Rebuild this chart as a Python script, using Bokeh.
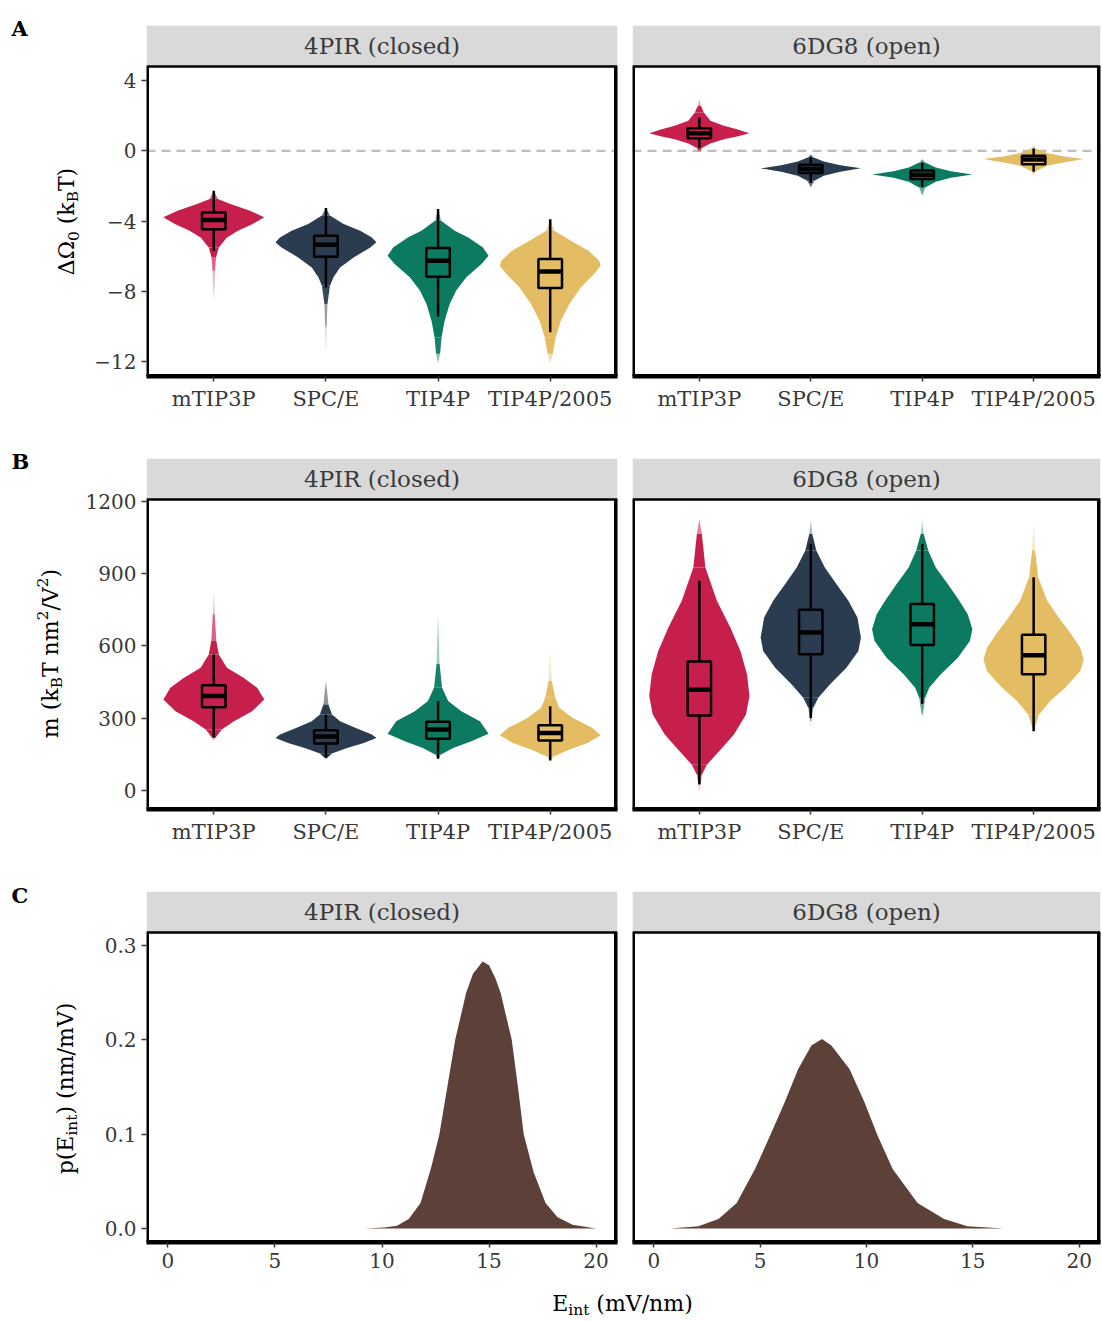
import math
import glob
from bokeh.plotting import figure
from bokeh.layouts import row, column
from bokeh.models import Range1d, FixedTicker, Span, PrintfTickFormatter
from bokeh.embed import file_html
from bokeh.resources import INLINE
from bokeh.core.properties import value

# ----------------------------------------------------------------- data
models = ["mTIP3P", "SPC/E", "TIP4P", "TIP4P/2005"]
model_colors = ["#c71f4b", "#2b3b50", "#0b7a61", "#e4bc63"]
facet_labels = ["4PIR (closed)", "6DG8 (open)"]

# Panel A  (Delta Omega_0, kBT) -- violin profiles: value, relative half-width
dO_closed_mTIP3P_y = [-2.28, -2.75, -3.03, -3.41, -3.79, -4.17, -4.55, -4.93, -5.5, -6.07, -6.83, -8.53]
dO_closed_mTIP3P_w = [0.0, 0.08, 0.33, 0.72, 1.0, 0.77, 0.48, 0.26, 0.1, 0.045, 0.025, 0.0]
dO_closed_SPCE_y = [-3.26, -3.69, -4.17, -4.55, -4.93, -5.21, -5.5, -6.07, -6.64, -7.2, -7.68, -8.72, -10.0, -11.56]
dO_closed_SPCE_w = [0.0, 0.08, 0.35, 0.68, 0.91, 1.0, 0.88, 0.55, 0.28, 0.15, 0.08, 0.03, 0.015, 0.0]
dO_closed_TIP4P_y = [-3.32, -3.98, -4.55, -4.93, -5.5, -5.97, -6.45, -7.2, -7.96, -8.72, -9.67, -10.62, -11.56, -12.1]
dO_closed_TIP4P_w = [0.0, 0.06, 0.33, 0.6, 0.89, 1.0, 0.86, 0.56, 0.36, 0.23, 0.13, 0.07, 0.04, 0.0]
dO_closed_TIP4P2005_y = [-3.89, -4.55, -5.12, -5.69, -6.26, -6.54, -7.02, -7.77, -8.72, -9.67, -10.62, -11.56, -12.1]
dO_closed_TIP4P2005_w = [0.0, 0.08, 0.41, 0.76, 0.97, 1.0, 0.87, 0.61, 0.38, 0.21, 0.11, 0.05, 0.0]

dO_open_mTIP3P_y = [2.94, 2.56, 2.18, 1.71, 1.42, 1.23, 1.0, 0.82, 0.66, 0.42, 0.19, 0.0, -0.1]
dO_open_mTIP3P_w = [0.0, 0.03, 0.09, 0.22, 0.49, 0.75, 1.0, 0.75, 0.49, 0.22, 0.07, 0.02, 0.0]
dO_open_SPCE_y = [-0.19, -0.38, -0.61, -0.82, -1.0, -1.19, -1.42, -1.71, -2.09]
dO_open_SPCE_w = [0.0, 0.06, 0.26, 0.59, 1.0, 0.59, 0.26, 0.07, 0.0]
dO_open_TIP4P_y = [-0.47, -0.66, -0.95, -1.16, -1.35, -1.54, -1.76, -2.09, -2.56]
dO_open_TIP4P_w = [0.0, 0.06, 0.27, 0.57, 1.0, 0.57, 0.27, 0.06, 0.0]
dO_open_TIP4P2005_y = [0.32, 0.1, -0.13, -0.32, -0.47, -0.66, -0.85, -1.14, -1.38]
dO_open_TIP4P2005_w = [0.0, 0.06, 0.27, 0.6, 1.0, 0.6, 0.27, 0.06, 0.0]

# Panel A box statistics (per model)
dO_closed_q3 = [-3.51, -4.84, -5.54, -6.16]
dO_closed_med = [-3.94, -5.35, -6.26, -6.87]
dO_closed_q1 = [-4.46, -6.03, -7.17, -7.81]
dO_closed_hi = [-2.28, -3.26, -3.32, -3.89]
dO_closed_lo = [-5.69, -7.78, -9.44, -10.33]
dO_open_q3 = [1.29, -0.8, -1.12, -0.28]
dO_open_med = [1.0, -1.03, -1.37, -0.5]
dO_open_q1 = [0.71, -1.27, -1.61, -0.76]
dO_open_hi = [1.9, -0.34, -0.66, 0.13]
dO_open_lo = [0.15, -1.84, -2.09, -1.19]

# Panel B  (m, kBT nm^2/V^2)
m_closed_mTIP3P_y = [816, 732, 621, 565, 510, 468, 426, 378, 329, 287, 253, 218, 205]
m_closed_mTIP3P_w = [0.0, 0.02, 0.05, 0.1, 0.26, 0.59, 0.86, 1.0, 0.76, 0.4, 0.16, 0.03, 0.0]
m_closed_SPCE_y = [454, 357, 315, 287, 260, 232, 218, 197, 176, 155, 135, 125]
m_closed_SPCE_w = [0.0, 0.05, 0.12, 0.28, 0.58, 0.91, 1.0, 0.75, 0.42, 0.13, 0.02, 0.0]
m_closed_TIP4P_y = [732, 525, 426, 371, 329, 287, 235, 204, 176, 149, 130]
m_closed_TIP4P_w = [0.0, 0.03, 0.08, 0.2, 0.46, 0.83, 1.0, 0.66, 0.3, 0.06, 0.0]
m_closed_TIP4P2005_y = [579, 454, 385, 343, 301, 260, 229, 197, 170, 142, 125]
m_closed_TIP4P2005_w = [0.0, 0.03, 0.1, 0.18, 0.45, 0.83, 1.0, 0.74, 0.38, 0.08, 0.0]

m_open_mTIP3P_y = [1128, 1065, 926, 788, 676, 579, 482, 392, 315, 232, 162, 107, 65, 24, -4]
m_open_mTIP3P_w = [0.0, 0.05, 0.12, 0.35, 0.62, 0.82, 0.95, 1.0, 0.93, 0.69, 0.39, 0.15, 0.05, 0.02, 0.0]
m_open_SPCE_y = [1121, 1065, 996, 926, 857, 788, 718, 635, 579, 510, 440, 385, 343, 288, 260]
m_open_SPCE_w = [0.0, 0.03, 0.11, 0.28, 0.51, 0.75, 0.93, 1.0, 0.95, 0.71, 0.38, 0.15, 0.05, 0.01, 0.0]
m_open_TIP4P_y = [1121, 1065, 996, 926, 857, 788, 731, 669, 621, 551, 482, 426, 385, 315, 288]
m_open_TIP4P_w = [0.0, 0.03, 0.12, 0.27, 0.51, 0.74, 0.91, 1.0, 0.95, 0.71, 0.37, 0.14, 0.06, 0.01, 0.0]
m_open_TIP4P2005_y = [1107, 996, 885, 788, 718, 649, 593, 544, 496, 426, 371, 315, 260, 232]
m_open_TIP4P2005_w = [0.0, 0.03, 0.09, 0.27, 0.5, 0.75, 0.93, 1.0, 0.93, 0.63, 0.33, 0.11, 0.02, 0.0]

m_closed_q3 = [437, 250, 285, 271]
m_closed_med = [392, 224, 253, 239]
m_closed_q1 = [346, 195, 215, 207]
m_closed_hi = [565, 315, 371, 350]
m_closed_lo = [221, 135, 132, 124]
m_open_q3 = [535, 750, 774, 646]
m_open_med = [418, 656, 690, 561]
m_open_q1 = [311, 566, 604, 482]
m_open_hi = [871, 1024, 1024, 885]
m_open_lo = [26, 301, 360, 246]

# Panel C  p(E_int)
E_closed_x = [9.2, 10.1, 10.7, 11.25, 11.8, 12.3, 12.68, 13.05, 13.42, 13.93, 14.25, 14.7,
              15.0, 15.3, 15.54, 15.8, 16.06, 16.35, 16.62, 17.08, 17.64, 18.2, 18.9, 20.0]
E_closed_p = [0.0, 0.001, 0.003, 0.01, 0.027, 0.065, 0.1, 0.15, 0.2, 0.25, 0.27, 0.283,
              0.279, 0.265, 0.25, 0.225, 0.2, 0.15, 0.1, 0.06, 0.027, 0.012, 0.004, 0.0]
E_open_x = [0.78, 2.1, 3.04, 3.9, 4.76, 5.46, 6.16, 6.79, 7.41, 7.91, 8.35, 9.2, 9.9,
            10.53, 11.23, 12.4, 13.65, 14.74, 16.46]
E_open_p = [0.0, 0.0025, 0.01, 0.027, 0.063, 0.098, 0.134, 0.169, 0.194, 0.201, 0.194,
            0.169, 0.134, 0.098, 0.063, 0.027, 0.01, 0.0025, 0.0]

omega_ticks = [-12, -8, -4, 0, 4]
m_ticks = [0, 300, 600, 900, 1200]
p_ticks = [0.0, 0.1, 0.2, 0.3]
E_ticks = [0, 5, 10, 15, 20]

# ----------------------------------------------------------------- style / layout
FONT = "DejaVu Serif"
TICK_COLOR = "#383838"
STRIP_COLOR = "#d9d9d9"
DENS_COLOR = "#5d4037"
HALF = 0.45
BOXH = 0.105
BODY_T = 0.06

GUT_W = 82
LEFT_BORDER = 64
FW_L = 471
FW_R = 468
GAP_L = 7
GAP_R = 8
RIGHT_END = 2
STRIP_H = 41
FH = 310
BOT = 65
BOT_C = 41
XLAB_H = 36
TOTAL_W = GUT_W + LEFT_BORDER + FW_L + GAP_L + GAP_R + FW_R + RIGHT_END

_EM = {" ": 0.318, "(": 0.39, ")": 0.39, "/": 0.337, "0": 0.636, "1": 0.636, "2": 0.636,
       "A": 0.722, "B": 0.735, "E": 0.727, "T": 0.683, "V": 0.722, "k": 0.64, "m": 0.948,
       "n": 0.646, "p": 0.642, "i": 0.32, "t": 0.402, "Δ": 0.722, "Ω": 0.764}
_font_path = None
for pat in ["/usr/share/fonts/truetype/dejavu/DejaVuSerif.ttf", "/usr/share/fonts/**/DejaVuSerif.ttf"]:
    hits = glob.glob(pat, recursive=True)
    if hits:
        _font_path = hits[0]
        break


def text_width(s, size):
    if _font_path:
        try:
            from PIL import ImageFont
            n = max(1, int(round(size * 4)))
            f = ImageFont.truetype(_font_path, n)
            return f.getlength(s) * size / n
        except Exception:
            pass
    return sum(_EM.get(ch, 0.6) for ch in s) * size


def base_fig(**kw):
    p = figure(toolbar_location=None, output_backend="svg", **kw)
    p.grid.visible = False
    p.background_fill_color = "white"
    p.border_fill_color = "white"
    return p


def _layout_pieces(pieces, size):
    out = []
    for t, k in pieces:
        fs = size if k == "n" else size * 0.7
        stripped = t.lstrip(" ")
        lead = text_width(t[:len(t) - len(stripped)], fs)
        w = text_width(stripped, fs)
        shift = 0.0 if k == "n" else (0.3 * size if k == "sub" else -0.38 * size)
        out.append((stripped, fs, lead, w, shift))
    return out


def rot_pieces(fig, pieces, mid_x, center_y, size):
    lay = _layout_pieces(pieces, size)
    total = sum(l + w for _, _, l, w, _ in lay)
    cur = center_y + total / 2.0
    for t, fs, lead, w, shift in lay:
        cur -= lead
        fig.text(x=[mid_x + shift], y=[-cur], text=[t], angle=math.pi / 2,
                 text_font=value(FONT), text_font_size=value("%.1fpx" % fs),
                 text_align="left", text_baseline="middle", text_color="black")
        cur -= w


def hor_pieces(fig, pieces, center_x, mid_y, size):
    lay = _layout_pieces(pieces, size)
    total = sum(l + w for _, _, l, w, _ in lay)
    cur = center_x - total / 2.0
    for t, fs, lead, w, shift in lay:
        cur += lead
        fig.text(x=[cur], y=[-(mid_y + shift)], text=[t],
                 text_font=value(FONT), text_font_size=value("%.1fpx" % fs),
                 text_align="left", text_baseline="middle", text_color="black")
        cur += w


def gutter(top, height, letter, letter_base, pieces, mid_x, center_y):
    g = base_fig(frame_width=GUT_W, frame_height=height,
                 x_range=Range1d(0, GUT_W), y_range=Range1d(-(top + height), -top),
                 x_axis_location=None, y_axis_location=None,
                 min_border_left=0, min_border_right=0, min_border_top=0, min_border_bottom=0)
    g.outline_line_color = None
    g.text(x=[11], y=[-letter_base], text=[letter], text_font=value(FONT),
           text_font_style="bold", text_font_size=value("21px"),
           text_align="left", text_baseline="alphabetic", text_color="black")
    rot_pieces(g, pieces, mid_x, center_y, 22)
    return g


def main_fig(is_left, x0, x1, y0, y1, top_border, bottom, xticks, yticks, strip_label,
             xlabel_size):
    # the frame holds the grey strip (STRIP_H px) above the panel (FH px)
    y_end = y1 + (y1 - y0) * STRIP_H / FH
    p = base_fig(frame_width=FW_L if is_left else FW_R, frame_height=FH + STRIP_H,
                 x_range=Range1d(x0, x1), y_range=Range1d(y0, y_end),
                 x_axis_location="below", y_axis_location="left" if is_left else None,
                 min_border_left=LEFT_BORDER if is_left else GAP_R,
                 min_border_right=GAP_L if is_left else RIGHT_END,
                 min_border_top=top_border, min_border_bottom=bottom)
    p.outline_line_color = None
    axes = [p.xaxis[0]] + ([p.yaxis[0]] if is_left else [])
    for ax in axes:
        ax.major_label_text_font = FONT
        ax.major_label_text_font_size = "20px"
        ax.major_label_text_color = TICK_COLOR
        ax.major_tick_line_color = TICK_COLOR
        ax.major_tick_line_width = 1.5
        ax.major_tick_out = 5
        ax.major_tick_in = 0
        ax.minor_tick_line_color = None
        ax.major_label_standoff = 5
    p.xaxis[0].major_label_text_font_size = xlabel_size
    p.xaxis[0].ticker = FixedTicker(ticks=xticks)
    p.xaxis[0].axis_line_color = "black"
    p.xaxis[0].axis_line_width = 4
    if is_left:
        p.yaxis[0].ticker = FixedTicker(ticks=yticks)
        p.yaxis[0].axis_line_color = None
    # strip
    p.quad(left=[x0], right=[x1], bottom=[y1], top=[y_end], fill_color=STRIP_COLOR,
           line_color=None)
    p.text(x=[(x0 + x1) / 2.0], y=[y1 + (y_end - y1) * 0.5], text=[strip_label],
           text_align="center", text_baseline="middle", text_font=value(FONT),
           text_font_size=value("23px"), text_color="#3a3a3a")
    # panel border (frame-edge lines are half clipped)
    p.segment(x0=[x0], y0=[y1], x1=[x1], y1=[y1], line_color="black", line_width=2.5)
    p.segment(x0=[x0], y0=[y0], x1=[x0], y1=[y1], line_color="black", line_width=5)
    p.segment(x0=[x1], y0=[y0], x1=[x1], y1=[y1], line_color="black", line_width=7)
    p.segment(x0=[x0], y0=[y0], x1=[x1], y1=[y0], line_color="black", line_width=5)
    return p


def draw_violin(p, c, ys, ws, color):
    idx = [i for i, w in enumerate(ws) if w >= BODY_T]
    i0, i1 = idx[0], idx[-1]
    yy = ys[i0:i1 + 1]
    ww = ws[i0:i1 + 1]
    xs = [c - HALF * w for w in ww] + [c + HALF * w for w in reversed(ww)]
    yp = list(yy) + list(reversed(yy))
    p.patch(xs, yp, fill_color=color, fill_alpha=1.0, line_color=None)
    txs, tys, tal = [], [], []
    for j in list(range(0, i0)) + list(range(i1, len(ws) - 1)):
        wa = 0.5 * (ws[j] + ws[j + 1])
        tal.append(max(0.12, min(1.0, wa / BODY_T) ** 0.7))
        txs.append([c - HALF * ws[j], c + HALF * ws[j], c + HALF * ws[j + 1], c - HALF * ws[j + 1]])
        tys.append([ys[j], ys[j], ys[j + 1], ys[j + 1]])
    if txs:
        p.patches(xs=txs, ys=tys, fill_color=color, fill_alpha=tal, line_color=None)


def draw_boxes(p, q1, med, q3, lo, hi):
    cs = [1, 2, 3, 4]
    p.segment(x0=cs, y0=q3, x1=cs, y1=hi, line_color="black", line_width=2.5)
    p.segment(x0=cs, y0=q1, x1=cs, y1=lo, line_color="black", line_width=2.5)
    p.quad(left=[c - BOXH for c in cs], right=[c + BOXH for c in cs], top=q3, bottom=q1,
           fill_color=None, line_color="black", line_width=2.5)
    p.segment(x0=[c - BOXH for c in cs], y0=med, x1=[c + BOXH for c in cs], y1=med,
              line_color="black", line_width=4.5)


def violin_panel(is_left, yr, yticks, profiles, box, zero_line, top_border, strip_label):
    p = main_fig(is_left, 0.4, 4.6, yr[0], yr[1], top_border, BOT, [1, 2, 3, 4], yticks,
                 strip_label, "21px")
    p.xaxis[0].major_label_overrides = {i + 1: m for i, m in enumerate(models)}
    if zero_line:
        p.add_layout(Span(location=0, dimension="width", line_color="#bdbdbd",
                          line_dash="9 6", line_width=2.2, level="underlay"))
    for i, (ys, ws) in enumerate(profiles):
        draw_violin(p, i + 1, ys, ws, model_colors[i])
    draw_boxes(p, *box)
    return p


# ----------------------------------------------------------------- panel A (page y 0..441)
yrA = (-12.85, 4.8)
pAL = violin_panel(True, yrA, omega_ticks,
                   [(dO_closed_mTIP3P_y, dO_closed_mTIP3P_w), (dO_closed_SPCE_y, dO_closed_SPCE_w),
                    (dO_closed_TIP4P_y, dO_closed_TIP4P_w), (dO_closed_TIP4P2005_y, dO_closed_TIP4P2005_w)],
                   (dO_closed_q1, dO_closed_med, dO_closed_q3, dO_closed_lo, dO_closed_hi), True,
                   25, facet_labels[0])
pAR = violin_panel(False, yrA, omega_ticks,
                   [(dO_open_mTIP3P_y, dO_open_mTIP3P_w), (dO_open_SPCE_y, dO_open_SPCE_w),
                    (dO_open_TIP4P_y, dO_open_TIP4P_w), (dO_open_TIP4P2005_y, dO_open_TIP4P2005_w)],
                   (dO_open_q1, dO_open_med, dO_open_q3, dO_open_lo, dO_open_hi), True,
                   25, facet_labels[1])
gA = gutter(0, 25 + STRIP_H + FH + BOT, "A", 28,
            [("ΔΩ", "n"), ("0", "sub"), (" (k", "n"), ("B", "sub"), ("T)", "n")], 66, 221)
blockA = row(gA, column(pAL), column(pAR))

# ----------------------------------------------------------------- panel B (page y 441..874)
yrB = (-79, 1208)
pBL = violin_panel(True, yrB, m_ticks,
                   [(m_closed_mTIP3P_y, m_closed_mTIP3P_w), (m_closed_SPCE_y, m_closed_SPCE_w),
                    (m_closed_TIP4P_y, m_closed_TIP4P_w), (m_closed_TIP4P2005_y, m_closed_TIP4P2005_w)],
                   (m_closed_q1, m_closed_med, m_closed_q3, m_closed_lo, m_closed_hi), False,
                   17, facet_labels[0])
pBR = violin_panel(False, yrB, m_ticks,
                   [(m_open_mTIP3P_y, m_open_mTIP3P_w), (m_open_SPCE_y, m_open_SPCE_w),
                    (m_open_TIP4P_y, m_open_TIP4P_w), (m_open_TIP4P2005_y, m_open_TIP4P2005_w)],
                   (m_open_q1, m_open_med, m_open_q3, m_open_lo, m_open_hi), False,
                   17, facet_labels[1])
gB = gutter(441, 17 + STRIP_H + FH + BOT, "B", 461,
            [("m (k", "n"), ("B", "sub"), ("T nm", "n"), ("2", "sup"), ("/V", "n"),
             ("2", "sup"), (")", "n")], 50, 653)
blockB = row(gB, column(pBL), column(pBR))

# ----------------------------------------------------------------- panel C (page y 874..1319)
yrC = (-0.0148, 0.3138)


def density_panel(is_left, xs, ps, strip_label):
    p = main_fig(is_left, -1, 21, yrC[0], yrC[1], 17, BOT_C, E_ticks, p_ticks, strip_label,
                 "20px")
    if is_left:
        p.yaxis[0].formatter = PrintfTickFormatter(format="%.1f")
    p.varea(x=xs, y1=[0.0] * len(xs), y2=ps, fill_color=DENS_COLOR, fill_alpha=1.0)
    return p


pCL = density_panel(True, E_closed_x, E_closed_p, facet_labels[0])
pCR = density_panel(False, E_open_x, E_open_p, facet_labels[1])
gC = gutter(874, 17 + STRIP_H + FH + BOT_C, "C", 895,
            [("p(E", "n"), ("int", "sub"), (") (nm/mV)", "n")], 65, 1088)
xlab = base_fig(frame_width=TOTAL_W, frame_height=XLAB_H,
                x_range=Range1d(0, TOTAL_W), y_range=Range1d(-(1283 + XLAB_H), -1283),
                x_axis_location=None, y_axis_location=None,
                min_border_left=0, min_border_right=0, min_border_top=0, min_border_bottom=0)
xlab.outline_line_color = None
hor_pieces(xlab, [("E", "n"), ("int", "sub"), (" (mV/nm)", "n")], 622, 1303, 22)
blockC = column(row(gC, column(pCL), column(pCR)), xlab)

layout = column(blockA, blockB, blockC)
open("out.html", "w").write(file_html(layout, INLINE))
